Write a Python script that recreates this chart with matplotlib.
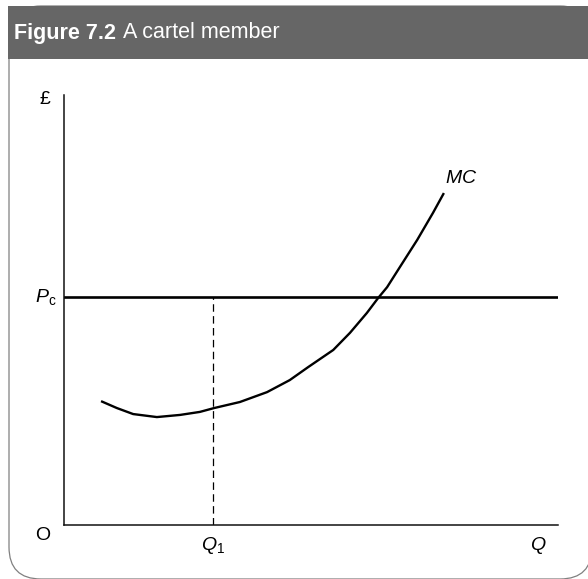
import matplotlib
matplotlib.use('Agg')
import matplotlib.pyplot as plt
from matplotlib.patches import Rectangle, FancyBboxPatch

plt.rcParams['font.family'] = ['Liberation Sans', 'DejaVu Sans']
plt.rcParams['mathtext.fontset'] = 'custom'
plt.rcParams['mathtext.rm'] = 'Liberation Sans'
plt.rcParams['mathtext.it'] = 'Liberation Sans:italic'

# valores (eixos 0..100)
mc_q = [7.5, 10.7, 14.0, 18.8, 23.5, 27.5, 30.4, 35.6, 41.1, 45.7, 49.4, 54.5, 57.9,
        61.3, 63.6, 65.4, 68.0, 71.5, 74.7, 76.9]
mc_p = [28.8, 27.2, 25.8, 25.1, 25.6, 26.3, 27.2, 28.6, 30.9, 33.7, 36.7, 40.7, 44.7,
        49.3, 52.8, 55.3, 60.0, 66.3, 72.6, 77.2]
preco_cartel = 53.0
q1 = 30.2

W, H = 588, 579
fig = plt.figure(figsize=(W / 100, H / 100), dpi=100)

# moldura e cabecalho, em coordenadas de pixel
fundo = fig.add_axes([0, 0, 1, 1])
fundo.set_xlim(0, W)
fundo.set_ylim(H, 0)
fundo.axis('off')
fundo.add_patch(FancyBboxPatch((9, 6), 583, 573, boxstyle='round,pad=0,rounding_size=32',
                               fc='white', ec='#808080', lw=0.9))
fundo.add_patch(Rectangle((8, 6), W - 8, 53, fc='#666666', ec='none', zorder=3))
t = fundo.text(14, 33, 'Figure 7.2', color='white', fontsize=15.5, fontweight='bold',
               va='center', zorder=4)
fig.canvas.draw()
bb = t.get_window_extent()
fundo.text(14 + bb.width + 7, 33, 'A cartel member', color='white', fontsize=15.5,
           va='center', zorder=4)

# grafico
ax = fig.add_axes([64 / W, (H - 525) / H, 494 / W, 430 / H])
ax.set_xlim(0, 100)
ax.set_ylim(0, 100)
ax.patch.set_alpha(0)
for lado in ['top', 'right']:
    ax.spines[lado].set_visible(False)
for lado in ['left', 'bottom']:
    ax.spines[lado].set_linewidth(1.1)
    ax.spines[lado].set_color('#111111')
ax.set_xticks([])
ax.set_yticks([])

ax.axhline(preco_cartel, color='black', lw=1.9)
ax.plot([q1, q1], [0, preco_cartel], color='black', lw=0.9, dashes=(6, 3.5))
ax.plot(mc_q, mc_p, color='black', lw=1.7, solid_capstyle='butt', solid_joinstyle='round')

ax.text(mc_q[-1] + 0.3, mc_p[-1] + 1.3, '$\\mathit{MC}$', fontsize=14, va='bottom', ha='left')
ax.text(-1.6, preco_cartel, '$\\mathit{P}_{\\mathrm{c}}$', fontsize=14, va='center', ha='right')
ax.text(q1, -2.4, '$\\mathit{Q}_{1}$', fontsize=14, va='top', ha='center')
ax.text(96, -2.4, '$\\mathit{Q}$', fontsize=14, va='top', ha='center')
ax.text(-2.8, -2.4, 'O', fontsize=14, va='center', ha='right')
ax.text(-2.8, 99, '£', fontsize=14, va='center', ha='right')

fig.savefig('out.png', dpi=100)
